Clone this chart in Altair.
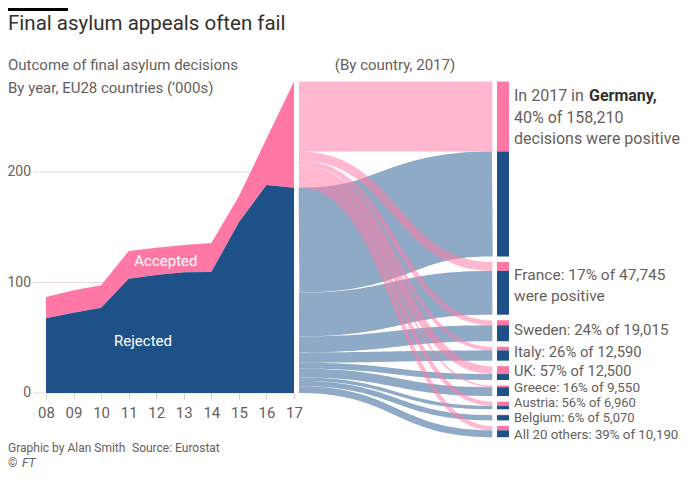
import altair as alt
import numpy as np
import pandas as pd

# ---------------- data ----------------
YEARS = [2008, 2009, 2010, 2011, 2012, 2013, 2014, 2015, 2016, 2017]
REJECTED_K = [67.6, 72.7, 77.2, 103.5, 106.8, 109.2, 109.5, 154.5, 188.2, 185.8]
ACCEPTED_K = [19.3, 20.3, 20.2, 25.0, 24.7, 24.8, 26.2, 23.5, 41.8, 96.0]

COUNTRIES = ["Germany", "France", "Sweden", "Italy", "UK", "Greece",
             "Austria", "Belgium", "All 20 others"]
DECISIONS = [158210, 47745, 19015, 12590, 12500, 9550, 6960, 5070, 10190]
PCT_POSITIVE = [40, 17, 24, 26, 57, 16, 56, 6, 39]

Y_TICKS = [0, 100, 200]

TITLE = "Final asylum appeals often fail"
SUBTITLE_LEFT = ["Outcome of final asylum decisions", "By year, EU28 countries (\u2019000s)"]
SUBTITLE_RIGHT = "(By country, 2017)"
CREDIT = "Graphic by Alan Smith"
SOURCE = "Source: Eurostat"

# ---------------- style / layout ----------------
FONT = "Roboto"
PINK = "#ff78a5"
BLUE = "#1f5189"
FLOW_BLUE = "#8faac6"
FLOW_PINK = "#ff7eaa"
TEXT = "#66605c"
DARK = "#33302e"
GRID = "#e6dbd0"

Y_MAX = 290
PX_PER_K = 1.105
H = Y_MAX * PX_PER_K
W = 659
GAP_K = 5.0
PAD = {"left": 25, "top": 64.55, "right": 0, "bottom": 81}

YS = alt.Scale(domain=[0, Y_MAX], nice=False, zero=False)
AREA_X = alt.Scale(domain=[2008, 2017], range=[13, 261], nice=False, zero=False)
FLOW_X = alt.Scale(domain=[0, 1], range=[266, 459.3], nice=False, zero=False)
NODE_X = alt.Scale(domain=[0, 1], range=[464, 476], nice=False, zero=False)

# ---------------- left: stacked area ----------------
area_df = pd.DataFrame({"year": YEARS, "rejected": REJECTED_K, "accepted": ACCEPTED_K})
area_df["total"] = area_df["rejected"] + area_df["accepted"]

grid_df = pd.DataFrame({"v": Y_TICKS})
grid = alt.Chart(grid_df).mark_rule(color=GRID, strokeWidth=1).encode(
    y=alt.Y("v:Q", scale=YS, axis=None),
    x=alt.value(0), x2=alt.value(261),
)
ylabels = alt.Chart(grid_df).mark_text(
    font=FONT, fontSize=14, color=TEXT, align="right", baseline="middle"
).encode(
    y=alt.Y("v:Q", scale=YS, axis=None),
    x=alt.value(-2),
    text=alt.Text("v:Q", format="d"),
)

area_pink = alt.Chart(area_df).mark_area(color=PINK, interpolate="linear").encode(
    x=alt.X("year:Q", scale=AREA_X, axis=alt.Axis(
        values=YEARS, format="d", labelExpr="substring(datum.label, 2)",
        domain=False, grid=False, tickSize=6, tickColor="#d6ccc2",
        labelFontSize=15, labelColor=TEXT, labelFont=FONT, labelPadding=6,
        labelFlush=False, labelOverlap=False, title=None)),
    y=alt.Y("total:Q", scale=YS, axis=None),
    y2="rejected:Q",
)

area_blue = alt.Chart(area_df).mark_area(color=BLUE, interpolate="linear").encode(
    x=alt.X("year:Q", scale=AREA_X, axis=None),
    y=alt.Y("rejected:Q", scale=YS, axis=None),
    y2=alt.datum(0),
)

area_lab_df = pd.DataFrame({"text": ["Accepted", "Rejected"],
                            "year": [2012.35, 2011.52],
                            "v": [119.5, 47.0]})
area_labels = alt.Chart(area_lab_df).mark_text(
    font=FONT, fontSize=15, color="white", align="center", baseline="middle"
).encode(
    x=alt.X("year:Q", scale=AREA_X, axis=None),
    y=alt.Y("v:Q", scale=YS, axis=None),
    text="text:N",
)

# ---------------- right: sankey ----------------
tot = [d / 1000 for d in DECISIONS]
acc = [d * p / 100 / 1000 for d, p in zip(DECISIONS, PCT_POSITIVE)]
rej = [t - a for t, a in zip(tot, acc)]
total_all = sum(tot)

left_pos = {}
cur = total_all
for c, a in zip(COUNTRIES, acc):
    left_pos[(c, "acc")] = (cur, cur - a)
    cur -= a
for c, r in zip(COUNTRIES, rej):
    left_pos[(c, "rej")] = (cur, cur - r)
    cur -= r

right_pos = {}
node_rows = []
cur = total_all
for c, t, a in zip(COUNTRIES, tot, acc):
    right_pos[(c, "acc")] = (cur, cur - a)
    right_pos[(c, "rej")] = (cur - a, cur - t)
    node_rows.append({"c": c, "kind": "acc", "x0": 0, "x1": 1, "top": cur, "bot": cur - a})
    node_rows.append({"c": c, "kind": "rej", "x0": 0, "x1": 1, "top": cur - a, "bot": cur - t})
    cur -= t + GAP_K

s = np.linspace(0, 1, 49)
bx = 1.5 * s * (1 - s) + s ** 3
by = 3 * s ** 2 - 2 * s ** 3


def flow_rows(kind):
    rows = []
    for c in COUNTRIES:
        l0, l1 = left_pos[(c, kind)]
        r0, r1 = right_pos[(c, kind)]
        yl = (l0 + l1) / 2
        yr = (r0 + r1) / 2
        w = (l0 - l1) * PX_PER_K
        for xi, yi in zip(bx, by):
            rows.append({"flow": c, "x": float(xi), "y": float(yl + (yr - yl) * yi), "w": w})
    return pd.DataFrame(rows)


flows_blue = alt.Chart(flow_rows("rej")).mark_line(color=FLOW_BLUE, strokeCap="butt").encode(
    x=alt.X("x:Q", scale=FLOW_X, axis=None),
    y=alt.Y("y:Q", scale=YS, axis=None),
    detail="flow:N",
    size=alt.Size("w:Q", scale=None, legend=None),
)
flows_pink = alt.Chart(flow_rows("acc")).mark_line(color=FLOW_PINK, opacity=0.55, strokeCap="butt").encode(
    x=alt.X("x:Q", scale=FLOW_X, axis=None),
    y=alt.Y("y:Q", scale=YS, axis=None),
    detail="flow:N",
    size=alt.Size("w:Q", scale=None, legend=None),
)

nodes = alt.Chart(pd.DataFrame(node_rows)).mark_rect().encode(
    x=alt.X("x0:Q", scale=NODE_X, axis=None),
    x2="x1:Q",
    y=alt.Y("top:Q", scale=YS, axis=None),
    y2="bot:Q",
    color=alt.Color("kind:N", scale=alt.Scale(domain=["acc", "rej"], range=[PINK, BLUE]), legend=None),
)

# node labels
lab_rows = []
node_top = {c: right_pos[(c, "acc")][0] for c in COUNTRIES}
node_bot = {c: right_pos[(c, "rej")][1] for c in COUNTRIES}
g_i = 0
f_i = 1
lab_rows.append({"text": "In 2017 in", "v": node_top["Germany"] - 14 / PX_PER_K, "size": 16})
lab_rows.append({"text": f"{PCT_POSITIVE[g_i]}% of {DECISIONS[g_i]:,}", "v": node_top["Germany"] - 36 / PX_PER_K, "size": 16})
lab_rows.append({"text": "decisions were positive", "v": node_top["Germany"] - 57 / PX_PER_K, "size": 16})
lab_rows.append({"text": f"France: {PCT_POSITIVE[f_i]}% of {DECISIONS[f_i]:,}", "v": node_top["France"] - 12.7 / PX_PER_K, "size": 15.5})
lab_rows.append({"text": "were positive", "v": node_top["France"] - 33.7 / PX_PER_K, "size": 15.5})
SMALL_SIZES = [None, None, 15, 14.8, 14.6, 13.5, 13, 13, 13.3]
SMALL_UP_PX = [0, 0, 1, 1, 1, 2.5, 2.5, -0.5, -3]   # label centre shift (px, up) from node centre
for i, c in enumerate(COUNTRIES):
    if i < 2:
        continue
    mid = (node_top[c] + node_bot[c]) / 2 + SMALL_UP_PX[i] / PX_PER_K
    lab_rows.append({"text": f"{c}: {PCT_POSITIVE[i]}% of {DECISIONS[i]:,}", "v": mid, "size": SMALL_SIZES[i]})
lab_df = pd.DataFrame(lab_rows)
lab_df["x"] = 1

node_labels = alt.Chart(lab_df).mark_text(
    font=FONT, color=TEXT, align="left", baseline="middle", dx=5
).encode(
    x=alt.X("x:Q", scale=NODE_X, axis=None),
    y=alt.Y("v:Q", scale=YS, axis=None),
    text="text:N",
    size=alt.Size("size:Q", scale=None, legend=None),
)
bold_df = pd.DataFrame({"text": ["Germany,"], "v": [node_top["Germany"] - 14 / PX_PER_K], "x": [1]})
node_bold = alt.Chart(bold_df).mark_text(
    font=FONT, color=DARK, fontWeight="bold", fontSize=16, align="left", baseline="middle", dx=5 + 75
).encode(
    x=alt.X("x:Q", scale=NODE_X, axis=None),
    y=alt.Y("v:Q", scale=YS, axis=None),
    text="text:N",
)

# ---------------- titles / notes ----------------
top_y = -PAD["top"]


def ann(rows, **kw):
    df = pd.DataFrame(rows)
    base = dict(font=FONT, baseline="alphabetic")
    base.update(kw)
    return alt.Chart(df).mark_text(**base).encode(
        x=alt.X("px:Q", scale=None, axis=None),
        y=alt.Y("py:Q", scale=None, axis=None),
        text="text:N",
    )


title = ann([{"text": TITLE, "px": -25, "py": 30 - 72.55}], fontSize=20.5, color=DARK, align="left")
sub_left = ann([{"text": SUBTITLE_LEFT[0], "px": -25, "py": 70 - 72.55},
                {"text": SUBTITLE_LEFT[1], "px": -25, "py": 92.5 - 72.55}],
               fontSize=15, color=TEXT, align="left")
sub_right = ann([{"text": SUBTITLE_RIGHT, "px": 362, "py": 70 - 72.55}],
                fontSize=15, color=TEXT, align="center")
source = ann([{"text": CREDIT, "px": -25, "py": 452 - 72.55},
              {"text": SOURCE, "px": 99, "py": 452 - 72.55}],
             fontSize=12, color=TEXT, align="left")
copy1 = ann([{"text": "\u00a9", "px": -25, "py": 467 - 72.55}], fontSize=12, color=TEXT, align="left")
copy2 = ann([{"text": "FT", "px": -11, "py": 467 - 72.55}], fontSize=12, color=TEXT, align="left",
            fontStyle="italic")

bar = alt.Chart(pd.DataFrame({"k": [1]})).mark_rect(color="black").encode(
    x=alt.value(-25), x2=alt.value(35), y=alt.value(top_y), y2=alt.value(top_y + 3)
)

chart = alt.layer(
    grid, ylabels, area_pink, area_blue, area_labels,
    flows_blue, flows_pink, nodes, node_labels, node_bold,
    title, sub_left, sub_right, source, copy1, copy2, bar,
).resolve_scale(x="independent").properties(
    width=W, height=H,
    autosize=alt.AutoSizeParams(type="none"),
    padding=PAD,
    background="white",
).configure_view(stroke=None)

chart.save("out.html", embed_options={"renderer": "svg", "actions": False})
